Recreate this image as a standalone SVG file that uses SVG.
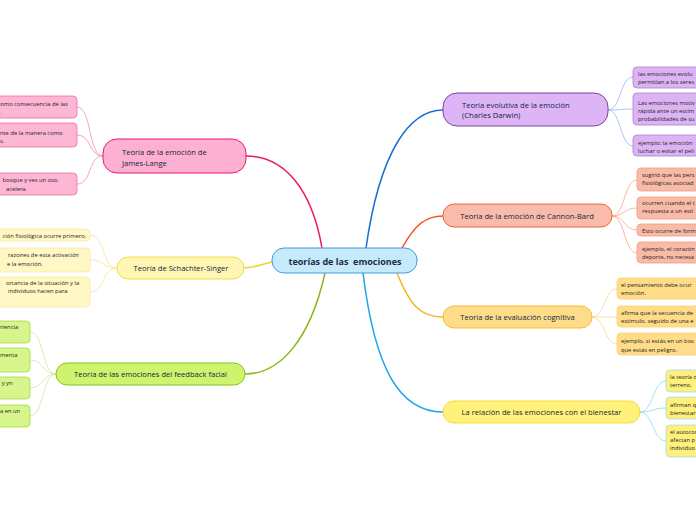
<svg xmlns="http://www.w3.org/2000/svg" width="696" height="520" viewBox="0 0 696 520">
<style>
text{font-family:"Open Sans","Noto Sans","DejaVu Sans",sans-serif;fill:#13263a}
.t{font-size:7.6px;font-weight:500}
.l{font-size:5.8px;fill:#222222}
.c{font-size:9px;font-weight:bold;fill:#1b2a4a}
.m{text-anchor:middle}
.br{fill:none;stroke-width:1.5}
.lc{fill:none;stroke-width:0.8}
</style>
<rect width="696" height="520" fill="#ffffff"/>
<g id="connectors">
<path class="br" stroke="#e8196f" d="M322,248 C312,190 285,156 246,156"/>
<path class="br" stroke="#1a6fd4" d="M366,248 C380,150 410,110 443,110"/>
<path class="br" stroke="#f05a28" d="M402,248 C415,225 425,216 443,216"/>
<path class="br" stroke="#f6b41a" d="M397,273 C410,305 420,317 443,317"/>
<path class="br" stroke="#1aa3f0" d="M363,273 C375,370 400,412 443,412"/>
<path class="br" stroke="#8ab81c" d="M325,273 C310,340 280,374 245,374"/>
<path class="br" stroke="#f2d52c" d="M272,262 C262,264 254,268 244,268"/>
<g stroke="#f788b8">
<path class="lc" d="M103,156 C88,156 92,107 77,107"/>
<path class="lc" d="M103,156 C88,156 92,135 77,135"/>
<path class="lc" d="M103,156 C88,156 92,184 77,184"/>
</g>
<g stroke="#f2e39a">
<path class="lc" d="M117,268 C102,268 105,235 90,235"/>
<path class="lc" d="M117,268 C102,268 105,260 90,260"/>
<path class="lc" d="M117,268 C102,268 105,292 90,292"/>
</g>
<g stroke="#c8e89a">
<path class="lc" d="M56,374 C42,374 44,332 30,332"/>
<path class="lc" d="M56,374 C42,374 44,360 30,360"/>
<path class="lc" d="M56,374 C42,374 44,388 30,388"/>
<path class="lc" d="M56,374 C42,374 44,416 30,416"/>
</g>
<g stroke="#8bb8f0">
<path class="lc" d="M608,110 C621,110 620,77 633,77"/>
<path class="lc" d="M608,110 C621,110 620,109 633,109"/>
<path class="lc" d="M608,110 C621,110 620,146 633,146"/>
</g>
<g stroke="#f7a486">
<path class="lc" d="M612,216 C625,216 624,180 637,180"/>
<path class="lc" d="M612,216 C625,216 624,208 637,208"/>
<path class="lc" d="M612,216 C625,216 624,230 637,230"/>
<path class="lc" d="M612,216 C625,216 624,253 637,253"/>
</g>
<g stroke="#fbd48a">
<path class="lc" d="M592,317 C605,317 604,289 617,289"/>
<path class="lc" d="M592,317 C605,317 604,317 617,317"/>
<path class="lc" d="M592,317 C605,317 604,344 617,344"/>
</g>
<g stroke="#8fd6f5">
<path class="lc" d="M640,412 C653,412 653,381 666,381"/>
<path class="lc" d="M640,412 C653,412 653,408 666,408"/>
<path class="lc" d="M640,412 C653,412 653,441 666,441"/>
</g>
</g>
<g id="center">
<rect x="272" y="248" width="145" height="25" rx="12" fill="#c5ebfb" stroke="#3f9be0" stroke-width="1"/>
<text class="c m" x="345" y="265" xml:space="preserve">teorías de las  emociones</text>
</g>
<g id="james-lange">
<rect x="103" y="139" width="143" height="34" rx="14" fill="#feb0d2" stroke="#e8196f" stroke-width="1"/>
<text class="t" x="122" y="154.5">Teoría de la emoción de</text>
<text class="t" x="122" y="165.5">James-Lange</text>
</g>
<g id="jl-leaves">
<rect x="-10" y="96" width="87" height="22" rx="4" fill="#fdb7d5" stroke="#f06aa5" stroke-width="0.8"/>
<text class="l" x="-2.5" y="106">como consecuencia de las</text>
<text class="l" x="0.5" y="113.5">.</text>
<rect x="-10" y="123" width="87" height="24" rx="4" fill="#fdb7d5" stroke="#f06aa5" stroke-width="0.8"/>
<text class="l" x="0" y="135">nte de la manera como</text>
<text class="l" x="0" y="142.5">s.</text>
<rect x="-10" y="173" width="87" height="22" rx="4" fill="#fdb7d5" stroke="#f06aa5" stroke-width="0.8"/>
<text class="l" x="2.5" y="182">bosque y ves un oso.</text>
<text class="l" x="6" y="190.5">acelera.</text>
</g>
<g id="schachter">
<rect x="117" y="257" width="127" height="22" rx="11" fill="#fff6b4" stroke="#f2dd44" stroke-width="1"/>
<text class="t m" x="181" y="270.5">Teoría de Schachter-Singer</text>
</g>
<g id="ss-leaves">
<rect x="-10" y="229" width="100" height="12" rx="4" fill="#fff8c4" stroke="#f6eaa0" stroke-width="0.8"/>
<text class="l" x="2.5" y="237.5">ción fisiológica ocurre primero.</text>
<rect x="-10" y="248" width="100" height="24" rx="4" fill="#fff8c4" stroke="#f6eaa0" stroke-width="0.8"/>
<text class="l" x="8" y="257">razones de esta activación</text>
<text class="l" x="7" y="265.5">e la emoción.</text>
<rect x="-10" y="277" width="100" height="30" rx="4" fill="#fff8c4" stroke="#f6eaa0" stroke-width="0.8"/>
<text class="l" x="6" y="284.7">ortancia de la situación y la</text>
<text class="l" x="8" y="293">individuos hacen para</text>
</g>
<g id="feedback">
<rect x="56" y="363" width="189" height="22" rx="11" fill="#cdf46c" stroke="#8bc21c" stroke-width="1"/>
<text class="t m" x="150.5" y="377">Teoría de las emociones del feedback facial</text>
</g>
<g id="ff-leaves">
<rect x="-10" y="321" width="40" height="22" rx="4" fill="#d6f58a" stroke="#a5d93c" stroke-width="0.8"/>
<text class="l" x="0" y="329">riencia</text>
<rect x="-10" y="348" width="40" height="24" rx="4" fill="#d6f58a" stroke="#a5d93c" stroke-width="0.8"/>
<text class="l" x="0" y="357">menta</text>
<rect x="-10" y="377" width="40" height="22" rx="4" fill="#d6f58a" stroke="#a5d93c" stroke-width="0.8"/>
<text class="l" x="1.7" y="385">y yn</text>
<rect x="-10" y="405" width="40" height="22" rx="4" fill="#d6f58a" stroke="#a5d93c" stroke-width="0.8"/>
<text class="l" x="0" y="413">a en un</text>
</g>
<g id="darwin">
<rect x="443" y="93" width="165" height="33" rx="14" fill="#ddb5f7" stroke="#7b4699" stroke-width="1"/>
<text class="t" x="462" y="107.5">Teoría evolutiva de la emoción</text>
<text class="t" x="462" y="117.5">(Charles Darwin)</text>
</g>
<g id="cd-leaves">
<rect x="633" y="67" width="80" height="21" rx="4" fill="#dcb4f4" stroke="#a87ed4" stroke-width="0.8"/>
<text class="l" x="638" y="76">las emociones evolu</text>
<text class="l" x="638" y="83.5">permitían a los seres</text>
<rect x="633" y="93" width="80" height="32" rx="4" fill="#dcb4f4" stroke="#a87ed4" stroke-width="0.8"/>
<text class="l" x="638" y="104.5">Las emociones motiv</text>
<text class="l" x="638" y="112.5">rápida ante un estím</text>
<text class="l" x="638" y="121">probabilidades de su</text>
<rect x="633" y="135" width="80" height="21" rx="4" fill="#dcb4f4" stroke="#a87ed4" stroke-width="0.8"/>
<text class="l" x="638" y="144.5">ejemplo: la emoción</text>
<text class="l" x="638" y="152.5">luchar o evitar el peli</text>
</g>
<g id="cannon-bard">
<rect x="443" y="204" width="169" height="23" rx="11" fill="#f9bcaa" stroke="#f0643a" stroke-width="1"/>
<text class="t m" x="527" y="218.5">Teoría de la emoción de Cannon-Bard</text>
</g>
<g id="cb-leaves">
<rect x="637" y="168" width="80" height="23" rx="4" fill="#f9bba8" stroke="#f59a7c" stroke-width="0.8"/>
<text class="l" x="642" y="177">sugirió que las pers</text>
<text class="l" x="642" y="184.5">fisiológicas asociad</text>
<rect x="637" y="197" width="80" height="22" rx="4" fill="#f9bba8" stroke="#f59a7c" stroke-width="0.8"/>
<text class="l" x="642" y="205">ocurren cuando el t</text>
<text class="l" x="642" y="213">respuesta a un estí</text>
<rect x="637" y="224" width="80" height="12" rx="4" fill="#f9bba8" stroke="#f59a7c" stroke-width="0.8"/>
<text class="l" x="642" y="232.5">Esto ocurre de form</text>
<rect x="637" y="242" width="80" height="21" rx="4" fill="#f9bba8" stroke="#f59a7c" stroke-width="0.8"/>
<text class="l" x="642" y="251.3">ejemplo, el corazón</text>
<text class="l" x="642" y="259.3">deporte, no necesa</text>
</g>
<g id="evaluacion">
<rect x="443" y="306" width="149" height="22" rx="11" fill="#fedd8a" stroke="#fbbd2e" stroke-width="1"/>
<text class="t m" x="517.5" y="320">Teoría de la evaluación cognitiva</text>
</g>
<g id="ev-leaves">
<rect x="617" y="278" width="90" height="21" rx="4" fill="#fedc88" stroke="#fbd174" stroke-width="0.8"/>
<text class="l" x="621" y="287">el pensamiento debe ocur</text>
<text class="l" x="621" y="295.3">emoción.</text>
<rect x="617" y="306" width="90" height="21" rx="4" fill="#fedc88" stroke="#fbd174" stroke-width="0.8"/>
<text class="l" x="621" y="315">afirma que la secuencia de</text>
<text class="l" x="621" y="323">estímulo, seguido de una e</text>
<rect x="617" y="333" width="90" height="22" rx="4" fill="#fedc88" stroke="#fbd174" stroke-width="0.8"/>
<text class="l" x="621" y="343">ejemplo, si estás en un bos</text>
<text class="l" x="621" y="351.5">que estás en peligro.</text>
</g>
<g id="bienestar">
<rect x="443" y="401" width="197" height="22" rx="11" fill="#fff17a" stroke="#f5dc3a" stroke-width="1"/>
<text class="t m" x="541.5" y="414.5">La relación de las emociones con el bienestar</text>
</g>
<g id="bi-leaves">
<rect x="666" y="370" width="50" height="22" rx="4" fill="#fdf07c" stroke="#9fdcf5" stroke-width="0.8"/>
<text class="l" x="670" y="378.7">la teoría d</text>
<text class="l" x="670" y="387">terreno.</text>
<rect x="666" y="397" width="50" height="22" rx="4" fill="#fdf07c" stroke="#9fdcf5" stroke-width="0.8"/>
<text class="l" x="670" y="407">afirman q</text>
<text class="l" x="670" y="415">bienestar</text>
<rect x="666" y="425" width="50" height="32" rx="4" fill="#fdf07c" stroke="#9fdcf5" stroke-width="0.8"/>
<text class="l" x="670" y="434">el autocon</text>
<text class="l" x="670" y="442">afectan p</text>
<text class="l" x="670" y="450">individuo</text>
</g>
</svg>
